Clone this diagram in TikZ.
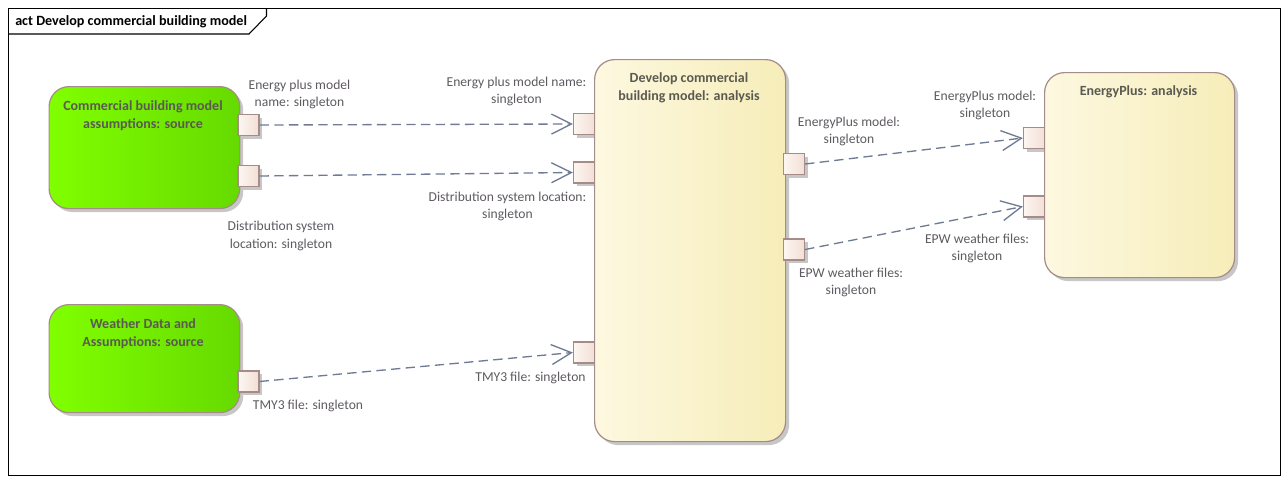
\documentclass[tikz,border=0pt]{standalone}
\usepackage{fontspec}
\setmainfont{Carlito}
\usetikzlibrary{arrows.meta,shadows}
\definecolor{edgecol}{HTML}{A58C88}
\definecolor{flowcol}{HTML}{6F7A94}
\definecolor{labelcol}{HTML}{5E5A60}
\definecolor{titlecol}{HTML}{5A5A50}
\tikzset{
    block/.style = {rounded corners=15pt, draw=edgecol, line width=0.9pt, anchor=north west,
        drop shadow={shadow xshift=2.6pt, shadow yshift=-2.6pt, fill=black!22, opacity=1}},
    source/.style = {block, left color=green1, right color=green2},
    analysis/.style = {block, left color=cream1, right color=cream2},
    port/.style = {draw=edgecol, line width=0.9pt, minimum width=15.75pt, minimum height=15.75pt,
        inner sep=0pt, left color=port1, right color=port2,
        drop shadow={shadow xshift=2.4pt, shadow yshift=-2.4pt, fill=black!22, opacity=1}},
    flow/.style = {flowcol, line width=1pt, dash pattern=on 7pt off 4pt,
        -{Straight Barb[length=15pt, width=15pt, line width=1pt]}},
    lbl/.style = {labelcol, font=\fontsize{10.2}{13.2}\selectfont, align=center, inner sep=0pt},
    blocktitle/.style = {titlecol, font=\fontsize{10.5}{13.2}\selectfont\bfseries, align=center, inner sep=0pt},
}
\definecolor{green1}{HTML}{80FF00}
\definecolor{green2}{HTML}{66DA00}
\definecolor{cream1}{HTML}{FDF8E0}
\definecolor{cream2}{HTML}{F6EDB9}
\definecolor{port1}{HTML}{FCF6F1}
\definecolor{port2}{HTML}{F3DFD6}
\begin{document}
\begin{tikzpicture}[x=0.75pt, y=-0.75pt]
    \useasboundingbox (0,0) rectangle (1288,483);

    % outer frame with its tab
    \draw[black, line width=0.8pt] (8.5,8.5) rectangle (1280.5,475.5);
    \draw[black, line width=0.8pt] (8.5,34) -- (249,34) -- (266.5,16) -- (266.5,8.5);
    \node[font=\fontsize{10.6}{12}\selectfont\bfseries, black, inner sep=0pt, anchor=west] (title) at (15,21.5) {act Develop commercial building model};

    % ports that sit behind their block
    \node[port] (p4) at (584,124) {};
    \node[port] (p5) at (584,172.5) {};
    \node[port] (p6) at (584,352.5) {};
    \node[port] (p9) at (1034,138) {};
    \node[port] (p10) at (1034,206.5) {};

    % blocks
    \node[source, minimum width=143pt, minimum height=91.5pt] (building) at (48.5,86) {};
    \node[source, minimum width=143pt, minimum height=81pt] (weather) at (48.5,304) {};
    \node[analysis, minimum width=143.25pt, minimum height=286.5pt] (develop) at (594,59) {};
    \node[analysis, minimum width=142.5pt, minimum height=153.75pt] (energyplus) at (1044,72) {};

    \node[blocktitle] (buildingname) at (143,115.5) {Commercial building model\\assumptions: source};
    \node[blocktitle] (weathername) at (143,333.5) {Weather Data and\\Assumptions: source};
    \node[blocktitle] (developname) at (689,88) {Develop commercial\\building model: analysis};
    \node[blocktitle] (energyplusname) at (1138.5,92) {EnergyPlus: analysis};

    % ports on top of their block
    \node[port] (p1) at (248.5,125) {};
    \node[port] (p2) at (248.5,176) {};
    \node[port] (p3) at (248.5,381.5) {};
    \node[port] (p7) at (794,164) {};
    \node[port] (p8) at (794,249.5) {};

    % flows
    \draw[flow] (p1.east) -- (p4.west);
    \draw[flow] (p2.east) -- (p5.west);
    \draw[flow] (p3.east) -- (p6.west);
    \draw[flow] (p7.east) -- (p9.west);
    \draw[flow] (p8.east) -- (p10.west);

    % port labels
    \node[lbl] (l1) at (299.5,94.5) {Energy plus model\\name: singleton};
    \node[lbl] (l2) at (281,236) {Distribution system\\location: singleton};
    \node[lbl] (l3) at (308,406) {TMY3 file: singleton};
    \node[lbl] (l4) at (516.5,91.5) {Energy plus model name:\\singleton};
    \node[lbl] (l5) at (507.5,206.5) {Distribution system location:\\singleton};
    \node[lbl] (l6) at (530.5,377.5) {TMY3 file: singleton};
    \node[lbl] (l7) at (849,131.5) {EnergyPlus model:\\singleton};
    \node[lbl] (l8) at (851,282.5) {EPW weather files:\\singleton};
    \node[lbl] (l9) at (985,105.5) {EnergyPlus model:\\singleton};
    \node[lbl] (l10) at (977,248.5) {EPW weather files:\\singleton};
\end{tikzpicture}
\end{document}
